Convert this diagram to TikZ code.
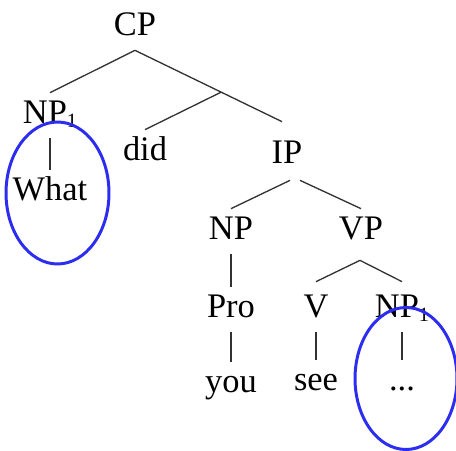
\documentclass[tikz,border=0pt]{standalone}
\usepackage{fontspec}
\setmainfont{Liberation Serif}

\definecolor{treegray}{RGB}{50, 50, 50}
\definecolor{ringblue}{RGB}{45, 45, 240}
\newcommand{\idx}[1]{\raisebox{-2.3pt}{\fontsize{11.5}{12}\selectfont #1}}

\begin{document}
\begin{tikzpicture}[
    x=0.02cm, y=-0.02cm,
    cat/.style={anchor=base, inner xsep=0pt, inner ysep=0.16cm,
      text height=0.44cm, text depth=0.14cm, font=\fontsize{19.6}{22}\selectfont},
    branch/.style={treegray, line width=0.75pt},
    ring/.style={ringblue, line width=1.7pt},
  ]
    \useasboundingbox (0,0) rectangle (456,450);

    % === CP level ===
    \node[cat] (cp) at (135, 35) {CP};
    \node[cat] (np1) at (50, 123) {NP\idx{1}};
    \node[cat] (did) at (145, 160) {did};
    \node[cat] (ip) at (287, 163) {IP};
    \node[cat] (what) at (50, 200) {What};

    \draw[branch] (cp.south) -- (np1.north);
    \draw[branch] (cp.south) -- coordinate[pos=0.586] (cpmid) ([shift={(-5,-11)}]ip.north);
    \draw[branch] (cpmid) -- (did.north);
    \draw[branch] (np1.south) -- (what.north);

    % === IP level ===
    \node[cat] (np) at (231, 239) {NP};
    \node[cat] (vp) at (361, 239) {VP};
    \node[cat] (pro) at (231, 317) {Pro};
    \node[cat] (you) at (231, 392) {you};

    \draw[branch] ([shift={(3,2)}]ip.south) -- (np.north);
    \draw[branch] ([shift={(13,2)}]ip.south) -- (vp.north);
    \draw[branch] (np.south) -- (pro.north);
    \draw[branch] (pro.south) -- (you.north);

    % === VP level ===
    \node[cat] (v) at (316, 317) {V};
    \node[cat] (np2) at (402, 317) {NP\idx{1}};
    \node[cat] (see) at (316, 390) {see};
    \node[cat] (gap) at (402, 390) {...};

    \draw[branch] ([shift={(-1,6)}]vp.south) -- ([yshift=0.1cm]v.north);
    \draw[branch] ([shift={(-1,6)}]vp.south) -- ([yshift=0.1cm]np2.north);
    \draw[branch] (v.south) -- (see.north);
    \draw[branch] (np2.south) -- (gap.north);

    % --- blue rings round the moved NP and its gap ---
    \draw[ring] (57.5, 193) ellipse (1.03cm and 1.42cm);
    \draw[ring] (406, 378.5) ellipse (1.02cm and 1.42cm);
  \end{tikzpicture}
\end{document}
